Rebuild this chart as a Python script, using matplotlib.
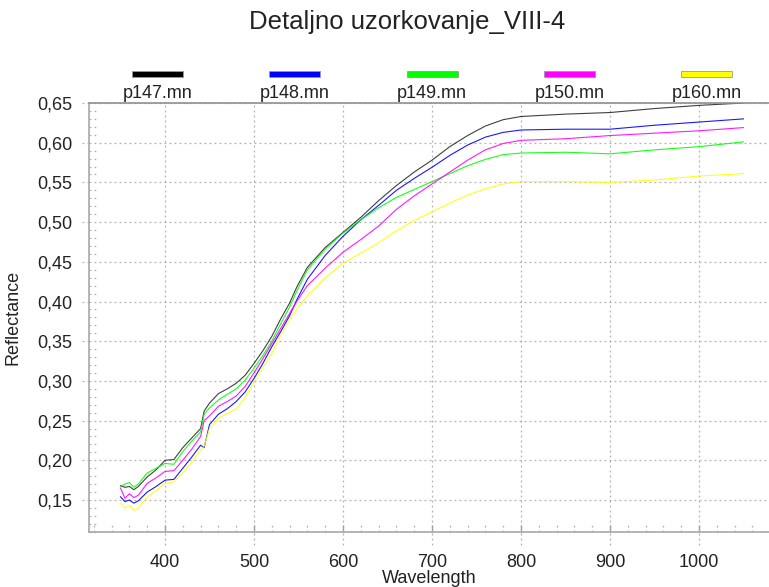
import matplotlib.pyplot as plt
from matplotlib.patches import Rectangle
from matplotlib.ticker import MultipleLocator, FuncFormatter

plt.rcParams['font.family'] = ['Liberation Sans', 'DejaVu Sans']

title = "Detaljno uzorkovanje_VIII-4"

wavelength = [350, 355, 360, 365, 370, 380, 390, 400, 410, 420, 430, 440, 444, 450,
              460, 470, 480, 490, 500, 510, 520, 530, 540, 548, 560, 580, 600, 620,
              640, 660, 680, 700, 720, 740, 760, 780, 800, 850, 900, 950, 1000, 1050]

p147 = [0.168, 0.166, 0.167, 0.163, 0.167, 0.179, 0.188, 0.200, 0.201, 0.216, 0.228, 0.240, 0.262, 0.272,
        0.284, 0.290, 0.297, 0.307, 0.322, 0.338, 0.356, 0.378, 0.398, 0.418, 0.443, 0.468, 0.487, 0.506,
        0.527, 0.546, 0.563, 0.578, 0.595, 0.609, 0.621, 0.629, 0.633, 0.636, 0.638, 0.643, 0.647, 0.650]
p148 = [0.154, 0.148, 0.150, 0.146, 0.149, 0.160, 0.167, 0.175, 0.176, 0.190, 0.204, 0.219, 0.216, 0.245,
        0.258, 0.265, 0.274, 0.286, 0.303, 0.322, 0.343, 0.362, 0.382, 0.402, 0.428, 0.458, 0.482, 0.503,
        0.521, 0.540, 0.555, 0.569, 0.584, 0.597, 0.607, 0.613, 0.616, 0.617, 0.617, 0.622, 0.626, 0.630]
p149 = [0.167, 0.170, 0.172, 0.166, 0.170, 0.184, 0.190, 0.196, 0.195, 0.211, 0.224, 0.236, 0.258, 0.266,
        0.276, 0.283, 0.290, 0.301, 0.316, 0.332, 0.350, 0.372, 0.393, 0.413, 0.440, 0.466, 0.486, 0.503,
        0.518, 0.531, 0.541, 0.551, 0.561, 0.571, 0.579, 0.585, 0.587, 0.588, 0.586, 0.591, 0.595, 0.601]
p150 = [0.165, 0.152, 0.158, 0.153, 0.156, 0.171, 0.178, 0.186, 0.187, 0.200, 0.214, 0.230, 0.250, 0.256,
        0.268, 0.274, 0.281, 0.293, 0.310, 0.328, 0.347, 0.366, 0.385, 0.400, 0.420, 0.442, 0.462, 0.478,
        0.495, 0.516, 0.533, 0.548, 0.563, 0.578, 0.591, 0.599, 0.603, 0.605, 0.609, 0.612, 0.615, 0.619]
p160 = [0.146, 0.140, 0.143, 0.137, 0.140, 0.154, 0.162, 0.171, 0.173, 0.184, 0.198, 0.213, 0.218, 0.240,
        0.253, 0.259, 0.265, 0.279, 0.299, 0.317, 0.335, 0.358, 0.377, 0.390, 0.407, 0.430, 0.448, 0.461,
        0.474, 0.489, 0.502, 0.513, 0.524, 0.534, 0.542, 0.548, 0.551, 0.551, 0.550, 0.553, 0.558, 0.561]

labels = ["p147.mn", "p148.mn", "p149.mn", "p150.mn", "p160.mn"]
colors = ["#000000", "#0000ff", "#00ff00", "#ff00ff", "#ffff00"]
series = [p147, p148, p149, p150, p160]

fig = plt.figure(figsize=(7.69, 5.87), dpi=100)
ax = fig.add_axes([89 / 769, 1 - 532 / 587, 680 / 769, 429 / 587])

for vals, c in zip(series, colors):
    ax.plot(wavelength, vals, color=c, lw=0.8, alpha=0.75 if c == "#000000" else 0.9)

ax.set_xlim(314.6, 1078.7)
ax.set_ylim(0.1097, 0.65)

ax.xaxis.set_major_locator(MultipleLocator(100))
ax.xaxis.set_minor_locator(MultipleLocator(20))
ax.yaxis.set_major_locator(MultipleLocator(0.05))
ax.yaxis.set_minor_locator(MultipleLocator(0.01))
ax.yaxis.set_major_formatter(FuncFormatter(lambda v, p: f"{v:.2f}".replace(".", ",")))
ax.set_xticks(range(400, 1001, 100))
ax.set_yticks([0.15 + 0.05 * i for i in range(11)])

ax.grid(True, which='major', color='#b0b0b0', linestyle=(0, (1.5, 2.5)), lw=0.9)
ax.tick_params(which='major', direction='in', length=5, color='#a0a0a0', width=1,
               labelsize=13, labelcolor='#222222')
ax.tick_params(axis='x', which='major', pad=16)
ax.tick_params(axis='y', which='major', pad=12)
ax.tick_params(which='minor', direction='in', length=0)
ax.tick_params(axis='y', which='major', length=0)

# dotted minor marks and outward grid stubs
dots = dict(color='#b0b0b0', linestyle=(0, (1.5, 2.5)), lw=0.9, clip_on=False)
xt = ax.get_xaxis_transform()
yt = ax.get_yaxis_transform()
for w in range(320, 1080, 20):
    if w % 100:
        ax.plot([w, w], [0, 0.02], transform=xt, **dots)
    else:
        ax.plot([w, w], [-0.03, 0], transform=xt, **dots)
for i in range(11, 66):
    v = i / 100
    if i % 5:
        ax.plot([0, 0.012], [v, v], transform=yt, **dots)
    else:
        ax.plot([-0.01, 0], [v, v], transform=yt, **dots)

for s in ['left', 'bottom']:
    ax.spines[s].set_color('#a8a8a8')
    ax.spines[s].set_linewidth(1.2)
ax.spines['top'].set_color('#909090')
ax.spines['top'].set_linewidth(1.2)
ax.spines['right'].set_visible(False)

ax.set_xlabel("Wavelength", fontsize=13, color='#222222', labelpad=-1)
ax.set_ylabel("Reflectance", fontsize=13, color='#222222', labelpad=11)

fig.text(0.53, 1 - 22 / 587, title, ha='center', va='center', fontsize=18.5, color='#222222')

# legend across the top of the plot
for i, (lab, c) in enumerate(zip(labels, colors)):
    cx = 0.1007 + 0.2019 * i
    ax.add_patch(Rectangle((cx - 0.0375, 1.0606), 0.075, 0.015, transform=ax.transAxes,
                           facecolor=c, edgecolor='#999999', lw=0.6, clip_on=False))
    ax.text(cx, 1.021, lab, transform=ax.transAxes, ha='center', va='center',
            fontsize=13, color='#222222')

fig.savefig("out.png", dpi=100)
